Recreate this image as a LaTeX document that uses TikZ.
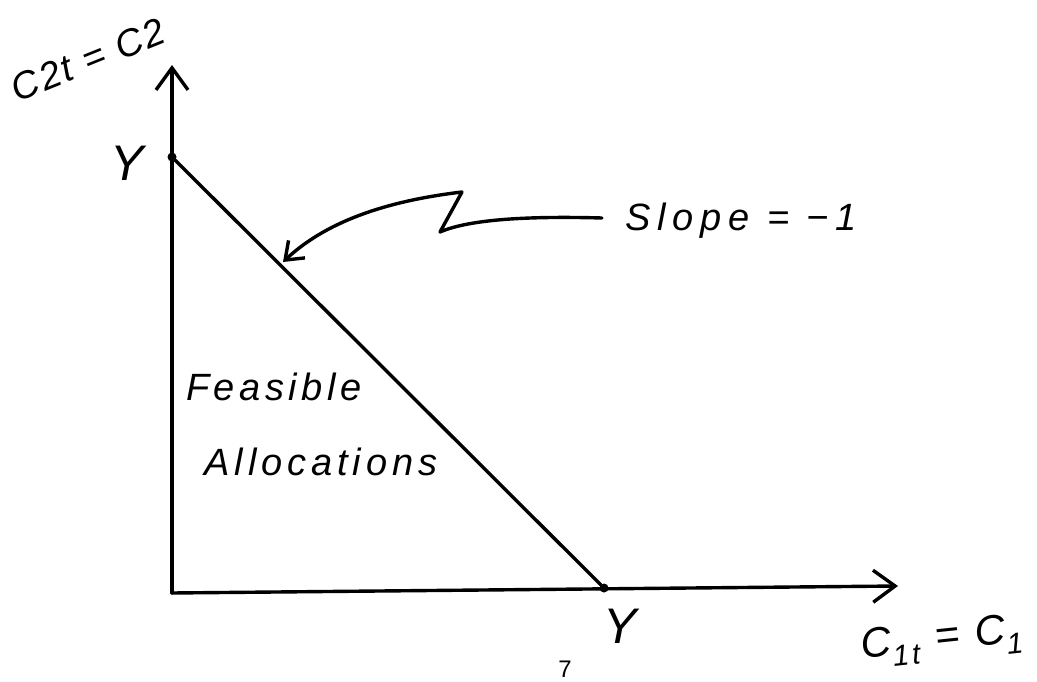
\documentclass[tikz,border=0pt]{standalone}
\usepackage{fontspec}
\setmainfont{Liberation Sans}
\usetikzlibrary{arrows.meta}
\tikzset{
  ink/.style={line width=3.4pt, line cap=round, line join=round},
  hand/.style={inner sep=0pt},
  axistip/.style={-{Straight Barb[length=22pt,width=32pt,line width=3.4pt]}},
  pointtip/.style={-{Straight Barb[length=16pt,width=24pt,line width=3.4pt]}},
  dot/.style={circle, fill=black, inner sep=0pt, minimum size=9pt}
}
\newcommand{\handfont}[2]{\fontsize{#1}{#1}\selectfont\itshape\addfontfeatures{LetterSpace=#2}}
\begin{document}
\begin{tikzpicture}[x=1pt,y=-1pt]
\useasboundingbox (0,0) rectangle (1037,682);
% axes
\coordinate (O) at (172,593);
\coordinate (ytop) at (172,65);
\coordinate (xend) at (898,586);
\node[dot] (Yv) at (172,157) {};
\node[dot] (Yh) at (604,588) {};
\draw[ink, axistip] (O) -- (ytop);
\draw[ink, axistip] (O) -- (xend);
% budget line
\draw[ink] (Yv) -- (Yh);
% slope pointer
\coordinate (p1) at (602,218);
\coordinate (p3) at (440,232);
\coordinate (p4) at (462,192);
\coordinate (ptip) at (283,262);
\draw[ink, pointtip] (p1) .. controls (530,216) and (470,219) .. (p3) -- (p4) .. controls (395,200) and (330,218) .. (ptip);
% labels
\node[hand, anchor=base west, font=\handfont{38}{18}] (slope) at (625,230) {Slope = −1};
\node[hand, font=\handfont{38}{12}] (feas) at (274,387) {Feasible};
\node[hand, font=\handfont{38}{13}] (alloc) at (321,462) {Allocations};
\node[hand, font=\handfont{50}{0}] (ylab) at (127,163) {Y};
\node[hand, font=\handfont{50}{0}] (xlab) at (620,626) {Y};
\node[hand, rotate=22, font=\handfont{38}{6}] (c2) at (88,60) {C2t = C2};
\node[hand, rotate=6, font=\handfont{42}{10}] (c1) at (942,641) {C\textsubscript{1t} = C\textsubscript{1}};
\node[inner sep=0pt, anchor=north, font=\fontsize{24}{24}\selectfont\rmfamily] (pg) at (565,661) {7};
\end{tikzpicture}
\end{document}
